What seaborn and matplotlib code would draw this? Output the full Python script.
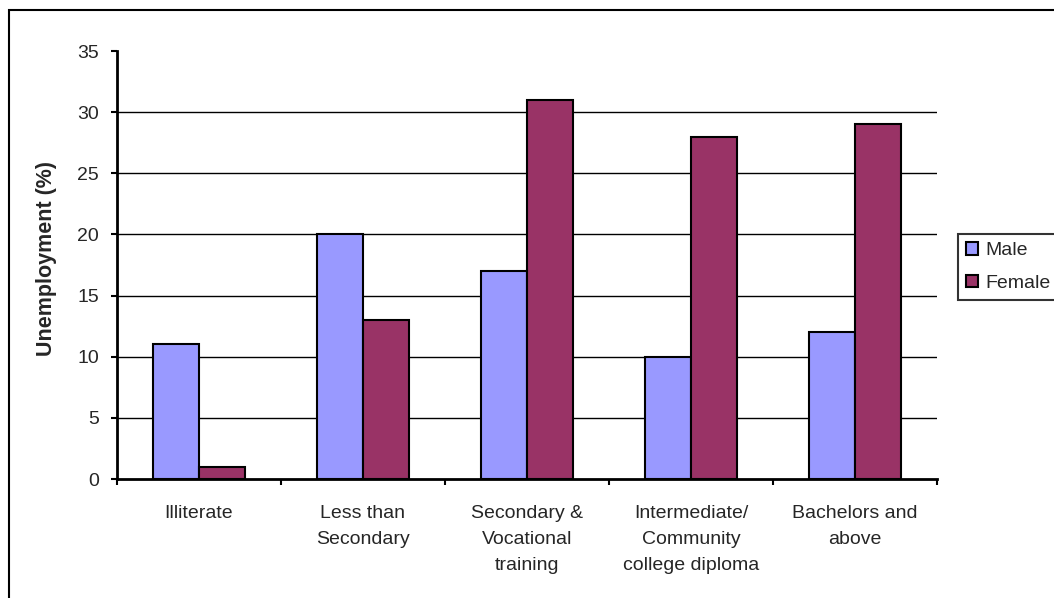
import matplotlib
matplotlib.use("Agg")
import matplotlib.pyplot as plt
from matplotlib.patches import Patch, Rectangle
import pandas as pd
import seaborn as sns

# Unemployment rate by education level and sex
levels = [
    "Illiterate",
    "Less than\nSecondary",
    "Secondary &\nVocational\ntraining",
    "Intermediate/\nCommunity\ncollege diploma",
    "Bachelors and\nabove",
]
male = [11, 20, 17, 10, 12]
female = [1, 13, 31, 28, 29]
series = ["Male", "Female"]
colors = ["#9999FF", "#993366"]
y_ticks = [0, 5, 10, 15, 20, 25, 30, 35]

df = pd.DataFrame({
    "level": levels * 2,
    "rate": male + female,
    "sex": [series[0]] * len(levels) + [series[1]] * len(levels),
})

sns.set_style("white")
plt.rcParams["font.family"] = ["Liberation Sans", "DejaVu Sans"]

W, H = 1054, 598
fig = plt.figure(figsize=(W / 100, H / 100), dpi=100)
ax = fig.add_axes([117 / W, 1 - 479 / H, (937 - 117) / W, (479 - 51) / H])

sns.barplot(
    data=df, x="level", y="rate", hue="sex", order=levels, hue_order=series,
    palette=colors, saturation=1, width=0.56, edgecolor="black",
    linewidth=1.5, legend=False, ax=ax,
)

ax.set_xlim(-0.5, len(levels) - 0.5)
ax.set_ylim(y_ticks[0], y_ticks[-1])

# horizontal gridlines (none along the top of the value range)
ax.hlines(y_ticks[1:-1], -0.5, len(levels) - 0.5, colors="black",
          linewidth=1.0, zorder=0)

for side in ("top", "right"):
    ax.spines[side].set_visible(False)
for side in ("left", "bottom"):
    ax.spines[side].set_linewidth(2.0)
    ax.spines[side].set_color("black")

ax.set_yticks(y_ticks)
ax.set_yticklabels([str(v) for v in y_ticks])
ax.tick_params(axis="y", direction="out", length=4.5, width=1.5,
               color="black", labelsize=14, pad=8.5, left=True)

# category labels centred, tick marks on category boundaries
ax.set_xticks(range(len(levels)))
ax.set_xticklabels(levels, linespacing=1.72)
ax.tick_params(axis="x", which="major", length=0, labelsize=14, pad=18.5)
ax.set_xticks([i - 0.5 for i in range(len(levels) + 1)], minor=True)
ax.tick_params(axis="x", which="minor", direction="out", length=4.5,
               width=1.5, color="black", bottom=True)

ax.set_xlabel("")
ax.set_ylabel("Unemployment (%)", fontsize=15.5, fontweight="bold")
ax.yaxis.set_label_coords((47 - 117) / (937 - 117), (479 - 258) / (479 - 51))
ax.yaxis.label.set_va("center")

handles = [Patch(facecolor=c, edgecolor="black", linewidth=1.5) for c in colors]
leg = fig.legend(
    handles, series, loc="upper left",
    bbox_to_anchor=(958 / W, 1 - 234 / H), bbox_transform=fig.transFigure,
    borderaxespad=0, fontsize=14, frameon=True, fancybox=False,
    handlelength=0.6, handleheight=0.6, handletextpad=0.4,
    borderpad=0.42, labelspacing=0.8,
)
leg.get_frame().set_edgecolor("black")
leg.get_frame().set_linewidth(1.5)

# outer chart frame
fig.patches.append(Rectangle((9 / W, -0.1), 1.2, 1.1 - 10 / H,
                             transform=fig.transFigure, fill=False,
                             edgecolor="black", linewidth=1.5))

fig.savefig("out.png", dpi=100, facecolor="white")
